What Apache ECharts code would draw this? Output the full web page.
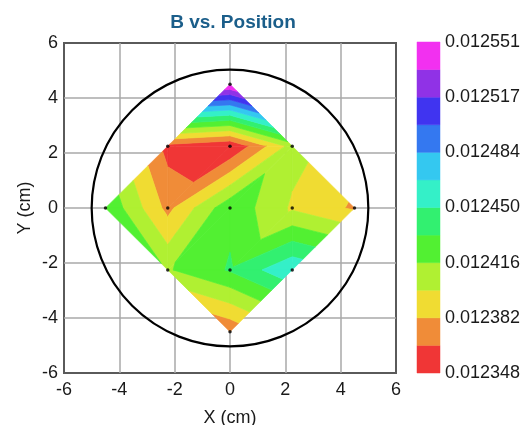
<!DOCTYPE html>
<html>
<head>
<meta charset="utf-8">
<script src="https://cdn.jsdelivr.net/npm/echarts@6/dist/echarts.min.js"></script>
<style>
html,body{margin:0;padding:0;background:#fff;}
#chart{width:526px;height:425px;}
</style>
</head>
<body>
<div id="chart"></div>
<script>
// ---- data ----
const posX = [0, -2.25, 0, 2.25, -4.5, -2.25, 0, 2.25, 4.5, -2.25, 0, 2.25, 0];
const posY = [4.5, 2.25, 2.25, 2.25, 0, 0, 0, 0, 0, -2.25, -2.25, -2.25, -4.5];
const bValues = [0.0125514, 0.0123586, 0.0123476, 0.0124053, 0.0124308, 0.0123765, 0.0124283,
                 0.0123960, 0.0123790, 0.0124138, 0.0124342, 0.0124639, 0.0123680];
// mesh topology (indices into the point arrays)
const triangles = [
  [0,1,2],[0,2,3],
  [1,2,5],[2,6,5],
  [2,6,3],[6,7,3],
  [4,1,5],[4,5,9],
  [5,6,9],[6,10,9],
  [6,7,10],[10,7,11],
  [3,7,8],[7,11,8],
  [9,10,12],[10,11,12]
];
const waferRadius = 5;
const bandColors = ['#f03636','#f08c38','#f0dc32','#b0f032','#52f032','#32f070',
                    '#34f0c8','#34c8f0','#3478f0','#4034f0','#9032e6','#f230f0'];
const cbLabels = ['0.012348','0.012382','0.012416','0.012450','0.012484','0.012517','0.012551'];
const axisTicks = [-6, 6, 2];

// ---- levels derived from data ----
const vMin = Math.min(...bValues), vMax = Math.max(...bValues);
const nBands = bandColors.length;
const levels = [];
for (let k = 0; k <= nBands; k++) levels.push(vMin + k * (vMax - vMin) / nBands);

function clip(poly, lev, keepAbove) {
  const out = [];
  for (let i = 0; i < poly.length; i++) {
    const P = poly[i], Q = poly[(i + 1) % poly.length];
    const pin = keepAbove ? P.v >= lev : P.v <= lev;
    const qin = keepAbove ? Q.v >= lev : Q.v <= lev;
    if (pin) out.push(P);
    if (pin !== qin) {
      const t = (lev - P.v) / (Q.v - P.v);
      out.push({x: P.x + t * (Q.x - P.x), y: P.y + t * (Q.y - P.y), v: lev});
    }
  }
  return out;
}

function renderTri(params, api) {
  const idx = api.value(2);
  const tri = triangles[idx].map(i => ({x: posX[i], y: posY[i], v: bValues[i]}));
  const children = [];
  for (let k = 0; k < nBands; k++) {
    let p = clip(tri, levels[k], true);
    if (p.length < 3) continue;
    p = clip(p, levels[k + 1], false);
    if (p.length < 3) continue;
    children.push({
      type: 'polygon',
      shape: {points: p.map(q => api.coord([q.x, q.y]))},
      style: {fill: bandColors[k], stroke: bandColors[k], lineWidth: 0.7}
    });
  }
  return {type: 'group', children: children};
}

const triData = triangles.map((t, i) => [
  (posX[t[0]] + posX[t[1]] + posX[t[2]]) / 3,
  (posY[t[0]] + posY[t[1]] + posY[t[2]]) / 3, i]);

const FONT = "'Liberation Sans', Arial, sans-serif";
const chart = echarts.init(document.getElementById('chart'), null, {renderer: 'canvas'});
chart.setOption({
  animation: false,
  backgroundColor: '#fff',
  title: {
    text: 'B vs. Position', left: 228, top: 8, textAlign: 'center',
    textStyle: {fontFamily: FONT, fontSize: 19, fontWeight: 'bold', color: '#1b5e8a'}
  },
  grid: [
    {left: 64, top: 43, width: 332, height: 330, show: true, borderColor: '#5a5a5a', borderWidth: 2,
     backgroundColor: 'transparent', containLabel: false, outerBoundsMode: 'none'},
    {left: 417, top: 42, width: 23, height: 331, containLabel: false, outerBoundsMode: 'none'}
  ],
  xAxis: [
    {type: 'value', gridIndex: 0, min: axisTicks[0], max: axisTicks[1], interval: axisTicks[2],
     name: 'X (cm)', nameLocation: 'middle', nameGap: 36, nameMoveOverlap: false,
     nameTextStyle: {fontFamily: FONT, fontSize: 18, color: '#1a1a1a'},
     axisLine: {show: false}, axisTick: {show: false},
     axisLabel: {fontFamily: FONT, fontSize: 18, color: '#1a1a1a', margin: 8},
     splitLine: {show: true, showMinLine: false, showMaxLine: false, lineStyle: {color: '#a8a8a8', width: 1.5}}},
    {type: 'value', gridIndex: 1, min: 0, max: 1, show: false}
  ],
  yAxis: [
    {type: 'value', gridIndex: 0, min: axisTicks[0], max: axisTicks[1], interval: axisTicks[2],
     name: 'Y (cm)', nameLocation: 'middle', nameGap: 30, nameMoveOverlap: false,
     nameTextStyle: {fontFamily: FONT, fontSize: 18, color: '#1a1a1a'},
     axisLine: {show: false}, axisTick: {show: false},
     axisLabel: {fontFamily: FONT, fontSize: 18, color: '#1a1a1a', margin: 6},
     splitLine: {show: true, showMinLine: false, showMaxLine: false, lineStyle: {color: '#a8a8a8', width: 1.5}}},
    {type: 'value', gridIndex: 1, min: 0, max: nBands, interval: 2, position: 'right',
     axisLine: {show: false}, axisTick: {show: false}, splitLine: {show: false},
     axisLabel: {fontFamily: FONT, fontSize: 18, color: '#1a1a1a', margin: 5,
                 formatter: v => cbLabels[Math.round(v / 2)]}}
  ],
  series: [
    {type: 'custom', xAxisIndex: 0, yAxisIndex: 0, silent: true, clip: true,
     data: triData, encode: {x: 0, y: 1}, renderItem: renderTri, z: 2},
    {type: 'custom', xAxisIndex: 0, yAxisIndex: 0, silent: true,
     data: [[0, 0, waferRadius]], encode: {x: 0, y: 1}, z: 3,
     renderItem: (params, api) => {
       const c = api.coord([api.value(0), api.value(1)]);
       const r = api.size([api.value(2), 0])[0];
       return {type: 'circle', shape: {cx: c[0], cy: c[1], r: r},
               style: {fill: null, stroke: '#000', lineWidth: 2.2}};
     }},
    {type: 'scatter', xAxisIndex: 0, yAxisIndex: 0, silent: true, z: 4,
     data: posX.map((x, i) => [x, posY[i]]), symbolSize: 3.5,
     itemStyle: {color: '#000'}},
    {type: 'custom', xAxisIndex: 1, yAxisIndex: 1, silent: true,
     data: bandColors.map((c, k) => [0.5, k + 0.5, k]), encode: {x: 0, y: 1},
     renderItem: (params, api) => {
       const k = api.value(2);
       const p0 = api.coord([0, k + 1]);
       const p1 = api.coord([1, k]);
       return {type: 'rect', shape: {x: p0[0], y: p0[1], width: p1[0] - p0[0], height: p1[1] - p0[1]},
               style: {fill: bandColors[k], stroke: bandColors[k], lineWidth: 0.5}};
     }}
  ]
});
</script>
</body>
</html>
